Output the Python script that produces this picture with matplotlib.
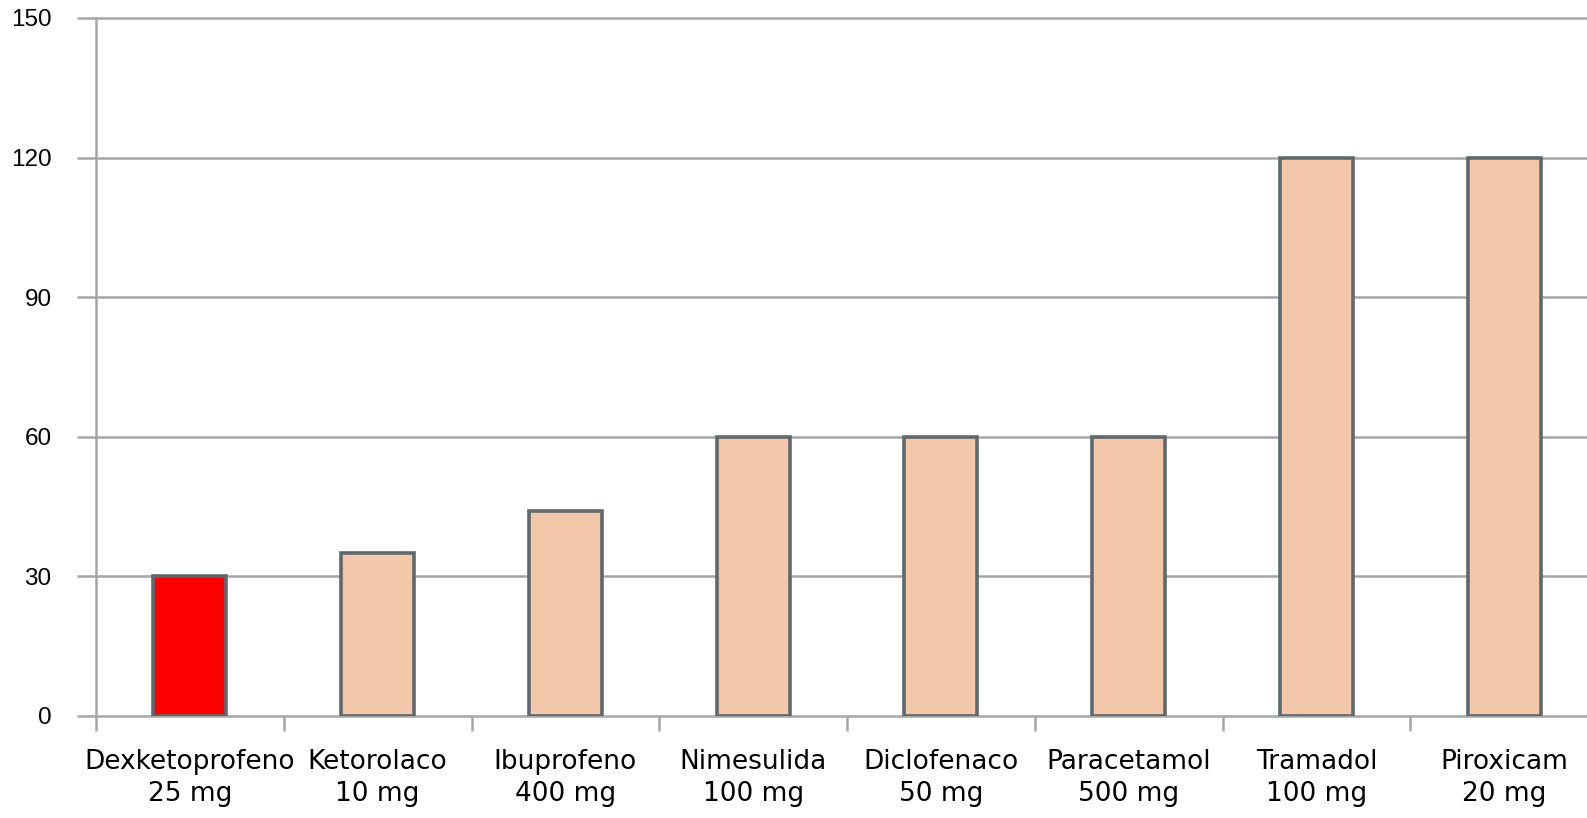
import matplotlib
matplotlib.use("Agg")
import matplotlib.pyplot as plt
import numpy as np

categories = ["Dexketoprofeno\n25 mg", "Ketorolaco\n10 mg", "Ibuprofeno\n400 mg",
              "Nimesulida\n100 mg", "Diclofenaco\n50 mg", "Paracetamol\n500 mg",
              "Tramadol\n100 mg", "Piroxicam\n20 mg"]
values = [30, 35, 44, 60, 60, 60, 120, 120]
bar_colors = ["#ff0000", "#f3c8aa", "#f3c8aa", "#f3c8aa", "#f3c8aa", "#f3c8aa", "#f3c8aa", "#f3c8aa"]
yticks = [0, 30, 60, 90, 120, 150]

grid_c = "#a6a6a6"
edge_c = "#5f686d"

fig = plt.figure(figsize=(15.87, 8.18), dpi=100)
ax = fig.add_axes([96/1587, 1 - 716/818, 1502/1587, (716-18)/818])

x = np.arange(len(categories))
ax.set_xlim(-0.5, len(categories) - 0.5)
ax.set_ylim(0, 150)

for v in yticks:
    ax.axhline(v, color=grid_c, lw=1.8, zorder=0, clip_on=False)

ax.bar(x, values, width=0.39, color=bar_colors, edgecolor=edge_c, linewidth=2.6, zorder=3)

for s in ["top", "right", "bottom"]:
    ax.spines[s].set_visible(False)
ax.spines["left"].set_color(grid_c)
ax.spines["left"].set_linewidth(1.8)

ax.set_yticks(yticks)
ax.set_yticklabels([str(v) for v in yticks], fontfamily="Liberation Sans", fontsize=17.5)
ax.tick_params(axis="y", length=14, width=1.8, color=grid_c, pad=18)

ax.set_xticks(x)
ax.set_xticklabels(categories, fontfamily="DejaVu Sans", fontsize=19, linespacing=1.27)
ax.set_xticks(np.arange(-0.5, len(categories) + 0.5, 1.0), minor=True)
ax.tick_params(axis="x", which="major", length=0, pad=24)
ax.tick_params(axis="x", which="minor", length=11, width=1.8, color=grid_c)

fig.savefig("out.png", dpi=100)
